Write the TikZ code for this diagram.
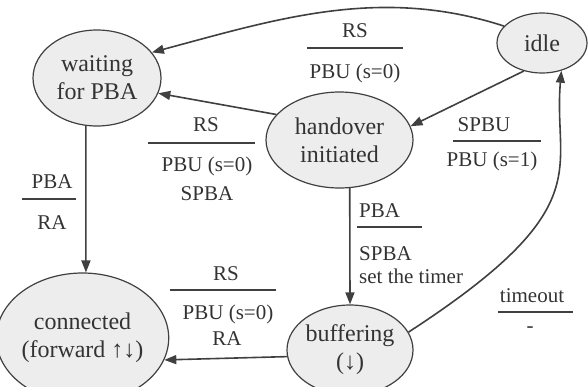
\documentclass[tikz,border=0pt]{standalone}
\usepackage{fontspec}
\setmainfont{Liberation Serif}
\usetikzlibrary{arrows.meta,shapes.geometric}
\definecolor{edgecol}{HTML}{404040}
\definecolor{txtcol}{HTML}{333333}
\definecolor{fillcol}{HTML}{EDEDED}
\tikzset{
  stnode/.style={ellipse, draw=edgecol, fill=fillcol, line width=1.2pt, inner sep=0pt,
    align=center, text=txtcol, font=\fontsize{24}{28}\selectfont},
  transarrow/.style={draw=edgecol, line width=1.6pt, -{Triangle[length=12pt,width=9pt]}},
  lab/.style={anchor=base, inner sep=0pt, text=txtcol, font=\fontsize{21}{24}\selectfont},
  labl/.style={lab, anchor=base west},
  fracline/.style={draw=edgecol, line width=1.3pt},
}
\begin{document}
\begin{tikzpicture}[x=1pt,y=1pt]
\useasboundingbox (0,0) rectangle (588,-386);
\clip (0,0) rectangle (588,-386);
% states
\node[stnode, minimum width=128pt, minimum height=96pt] (waiting) at (97,-78) {waiting\\for PBA};
\node[stnode, minimum width=90pt, minimum height=60pt] (idle) at (542,-43) {idle};
\node[stnode, minimum width=147pt, minimum height=96pt] (handover) at (339.5,-140) {handover\\initiated};
\node[stnode, minimum width=149pt, minimum height=130pt] (connected) at (82.5,-338) {connected\\(forward ↑↓)};
\node[stnode, minimum width=126pt, minimum height=90pt] (buffering) at (350,-350) {buffering\\(↓)};
% transitions
\draw[transarrow] (idle.156) to[out=162,in=15,out distance=130pt,in distance=130pt] (waiting.25);
\draw[transarrow] (idle.237) -- (handover.11);
\draw[transarrow] (handover.158) -- (waiting.346);
\draw[transarrow] (waiting.257) -- (connected.87);
\draw[transarrow] (handover.282) -- (buffering.90);
\draw[transarrow] (buffering.17) to[out=33,in=265,out distance=230pt,in distance=100pt] (idle.305);
\draw[transarrow] (buffering.186) -- (connected.345);
% labels: idle -> waiting
\node[lab] (l1a) at (355,-37) {RS};
\draw[fracline] (307,-48) -- (403,-48);
\node[lab] (l1b) at (355,-78) {PBU (s=0)};
% idle -> handover
\node[lab] (l2a) at (484,-131) {SPBU};
\draw[fracline] (453,-141) -- (541,-141);
\node[lab] (l2b) at (492,-166) {PBU (s=1)};
% handover -> waiting
\node[lab] (l3a) at (206,-131) {RS};
\draw[fracline] (148,-143) -- (255,-143);
\node[lab] (l3b) at (207,-171) {PBU (s=0)};
\node[lab] (l3c) at (207,-200) {SPBA};
% waiting -> connected
\node[lab] (l4a) at (52,-188) {PBA};
\draw[fracline] (22,-199) -- (76,-199);
\node[lab] (l4b) at (52,-229) {RA};
% handover -> buffering
\node[labl] (l5a) at (359,-217) {PBA};
\draw[fracline] (357,-227) -- (422,-227);
\node[labl] (l5b) at (359,-260) {SPBA};
\node[labl] (l5c) at (359,-283) {set the timer};
% buffering -> idle
\node[lab] (l6a) at (532,-302) {timeout};
\draw[fracline] (498,-312) -- (573,-312);
\node[lab] (l6b) at (530,-332) {-};
% buffering -> connected
\node[lab] (l7a) at (226,-280) {RS};
\draw[fracline] (170,-290) -- (276,-290);
\node[lab] (l7b) at (228,-319) {PBU (s=0)};
\node[lab] (l7c) at (227,-345) {RA};
\end{tikzpicture}
\end{document}
